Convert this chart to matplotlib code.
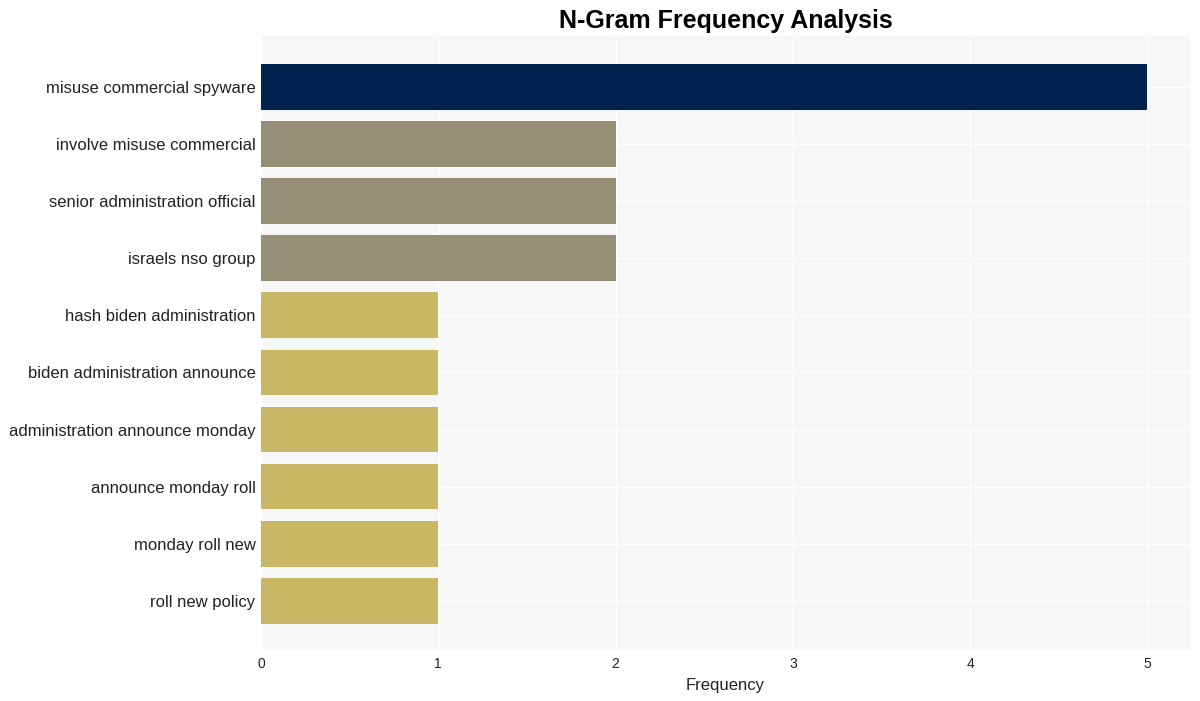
import matplotlib
matplotlib.use("Agg")
import matplotlib.pyplot as plt

plt.rcParams["font.family"] = ["Liberation Sans", "DejaVu Sans"]

ngrams = [
    "misuse commercial spyware",
    "involve misuse commercial",
    "senior administration official",
    "israels nso group",
    "hash biden administration",
    "biden administration announce",
    "administration announce monday",
    "announce monday roll",
    "monday roll new",
    "roll new policy",
]
counts = [5, 2, 2, 2, 1, 1, 1, 1, 1, 1]
colors = ["#00224e", "#968f75", "#968f75", "#968f75",
          "#c8b866", "#c8b866", "#c8b866", "#c8b866", "#c8b866", "#c8b866"]

fig = plt.figure(figsize=(12, 7.01), dpi=100)
ax = fig.add_axes([261 / 1200, 1 - 650 / 701, (1190 - 261) / 1200, (650 - 36) / 701])
ax.set_facecolor("#f7f7f7")

pos = list(range(len(ngrams)))
ax.barh(pos, counts, height=0.8, color=colors, zorder=2)

ax.set_yticks(pos)
ax.set_yticklabels(ngrams, fontsize=12, color="#222222")
ax.set_xticks(range(6))
ax.tick_params(axis="x", labelsize=10, colors="#222222", length=0, pad=5)
ax.tick_params(axis="y", length=0, pad=4)
ax.set_xlim(0, 5.24)
ax.set_ylim(9.86, -0.89)

ax.grid(True, color="white", linewidth=1, zorder=1)
for s in ax.spines.values():
    s.set_visible(False)

ax.set_xlabel("Frequency", fontsize=12, color="#222222", labelpad=5)
ax.set_title("N-Gram Frequency Analysis", fontsize=18, fontweight="bold", pad=6)

fig.savefig("out.png", dpi=100)
